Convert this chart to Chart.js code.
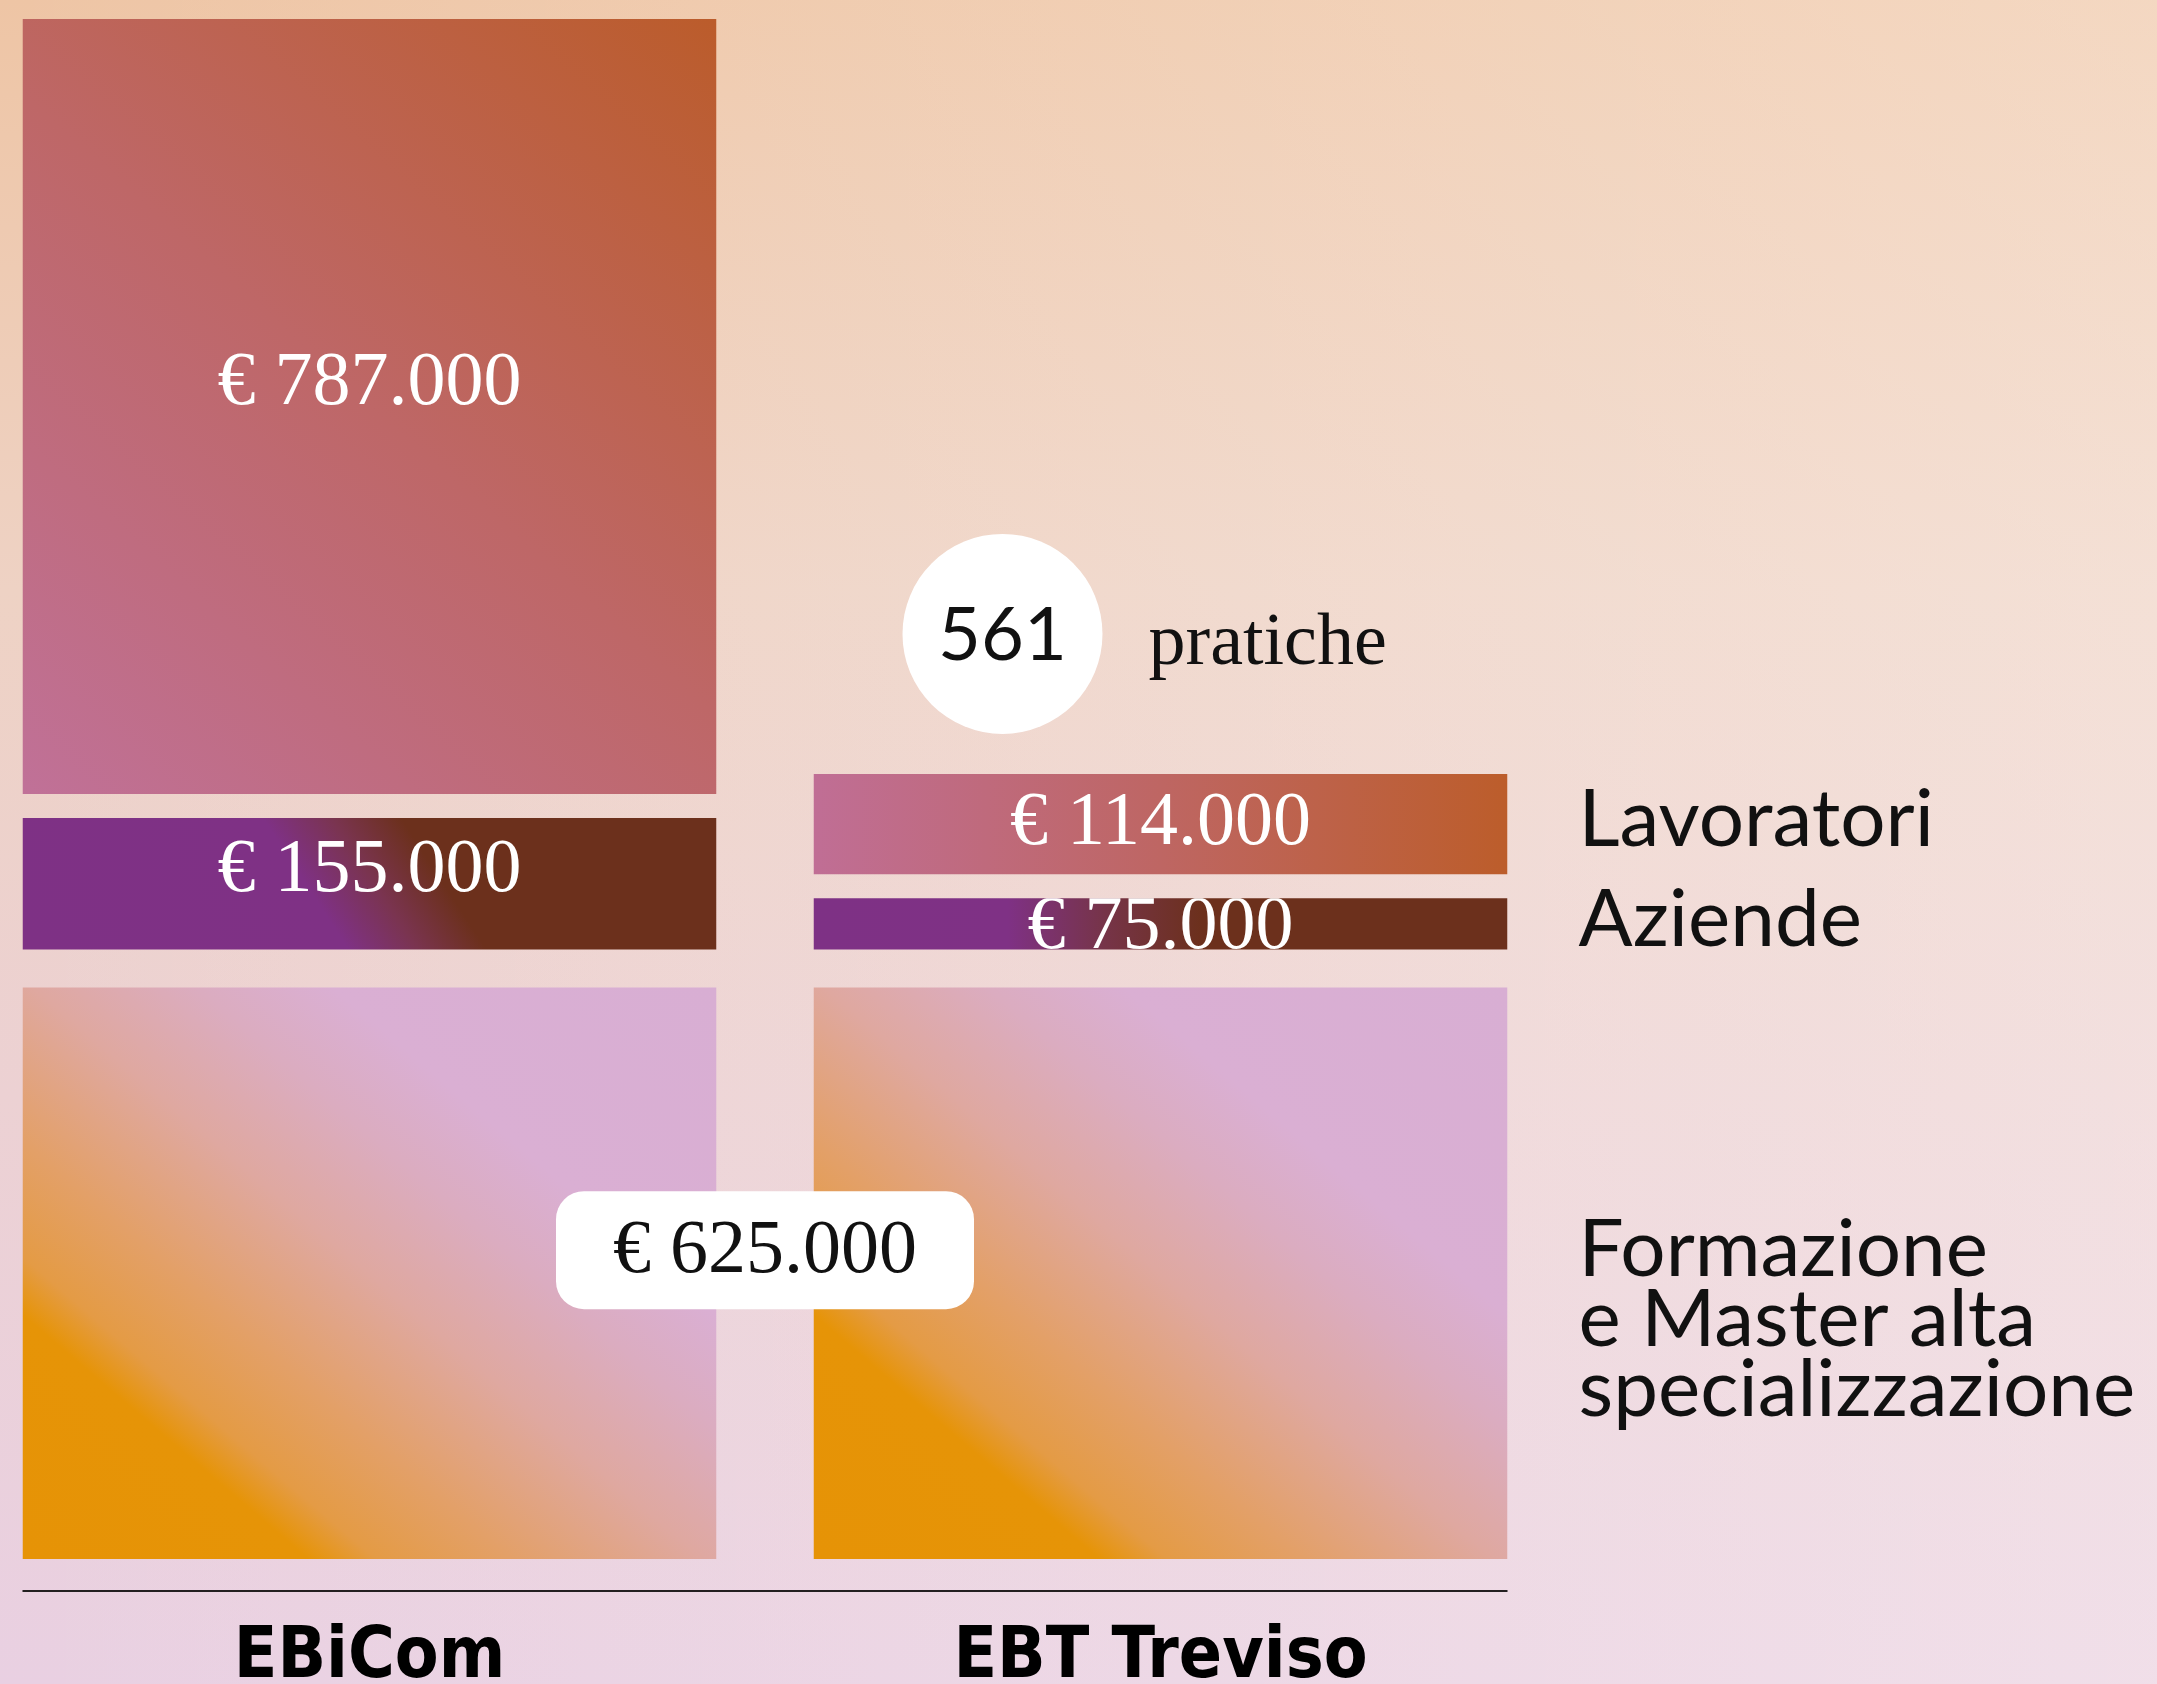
<!DOCTYPE html>
<html><head><meta charset="utf-8">
<script src="https://cdn.jsdelivr.net/npm/chart.js@4.4.1/dist/chart.umd.min.js"></script>
<style>
html,body{margin:0;padding:0;width:2157px;height:1684px;overflow:hidden;}
body{background:
  linear-gradient(90deg, rgba(255,255,255,0) 0%, rgba(255,250,246,0.35) 100%),
  linear-gradient(180deg, #EEC5A5 0%, #EED2C4 35%, #ECD1D3 65%, #E9D0E2 100%);}
#wrap{position:absolute;left:-26px;top:0;width:2183px;height:1684px;}
</style></head><body><div id="wrap"><canvas id="c"></canvas></div>
<script>
// ---- data ----
const categories = ['EBiCom', 'EBT Treviso'];
const seriesNames = ['Formazione e Master alta specializzazione', 'Aziende', 'Lavoratori'];
const formazione = [625000, 625000];
const aziende = [155000, 75000];
const lavoratori = [787000, 114000];
const praticheValue = 561;
const praticheText = 'pratiche';
const legendFormazione = ['Formazione', 'e Master alta', 'specializzazione'];
const legendAziende = ['Aziende'];
const legendLavoratori = ['Lavoratori'];

// ---- style ----
const series = [formazione, aziende, lavoratori];
const BAR_PCT = 0.8774;
const BORDERS = [
  {top: 24, bottom: 31, left: 0, right: 0},
  {top: 10, bottom: 14, left: 0, right: 0},
  {top: 0, bottom: 14, left: 0, right: 0}
];
const SERIF = '"Liberation Serif", "DejaVu Serif", serif';
const SANS = 'Lato, "Open Sans", sans-serif';

function fmt(v){ return '€ ' + String(v).replace(/\B(?=(\d{3})+(?!\d))/g, '.'); }

function rectFor(chart, di, i) {
  const xs = chart.scales.x, ys = chart.scales.y;
  let start = 0;
  for (let k = 0; k < di; k++) start += series[k][i];
  const end = start + series[di][i];
  const xc = xs.getPixelForValue(i);
  const w = (xs.width / categories.length) * BAR_PCT;
  const b = BORDERS[di];
  return {l: xc - w/2, r: xc + w/2, t: ys.getPixelForValue(end) + b.top, b: ys.getPixelForValue(start) - b.bottom};
}

function addStops(g, stops){ stops.forEach(s => g.addColorStop(s[0], s[1])); return g; }

function barFill(c) {
  const chart = c.chart;
  if (!chart.chartArea || c.type !== 'data') return '#c07070';
  const r = rectFor(chart, c.datasetIndex, c.dataIndex);
  const ctx = chart.ctx;
  const w = r.r - r.l, h = r.b - r.t;
  const di = c.datasetIndex;
  if (di === 0) {
    const g = ctx.createLinearGradient(r.l, r.b, r.l + w*0.827, r.b - h*1.176);
    return addStops(g, [[0,'#E69306'],[0.21,'#E69407'],[0.26,'#E49B45'],[0.36,'#E3A068'],[0.5,'#DFA8A0'],[0.62,'#DBACC0'],[0.72,'#DAAFD3'],[1,'#D8AED3']]);
  }
  if (di === 1) {
    if (h > 80) {
      const g = ctx.createLinearGradient(r.l, r.b, r.r, r.b - 0.65*w);
      return addStops(g, [[0,'#7E3185'],[0.33,'#7F3185'],[0.40,'#7A3450'],[0.47,'#6C301C'],[1,'#6C301C']]);
    }
    const g = ctx.createLinearGradient(r.l, 0, r.r, 0);
    return addStops(g, [[0,'#7E3185'],[0.28,'#7F3185'],[0.42,'#763448'],[0.56,'#6C301C'],[1,'#6C301C']]);
  }
  if (h > 300) {
    const g = ctx.createLinearGradient(r.l, r.b, r.r, r.t);
    return addStops(g, [[0,'#C07198'],[0.5,'#BE6767'],[1,'#BB5C2B']]);
  }
  const g = ctx.createLinearGradient(r.l, 0, r.r, 0);
  return addStops(g, [[0,'#C06E95'],[0.5,'#BE6663'],[1,'#BC5D2B']]);
}

const overlay = {
  id: 'overlay',
  afterDatasetsDraw(chart) {
    const ctx = chart.ctx;
    const vis = (di, i) => {
      const el = chart.getDatasetMeta(di).data[i];
      const b = BORDERS[di];
      return {l: el.x - el.width/2, r: el.x + el.width/2, t: el.y + b.top, b: el.base - b.bottom};
    };
    const first = vis(0, 0), last = vis(0, categories.length - 1);
    ctx.save();
    // baseline
    ctx.strokeStyle = '#231f20'; ctx.lineWidth = 2;
    ctx.beginPath(); ctx.moveTo(first.l, chart.chartArea.bottom + 1); ctx.lineTo(last.r, chart.chartArea.bottom + 1); ctx.stroke();

    // white value labels
    ctx.font = '76px ' + SERIF; ctx.fillStyle = '#fff'; ctx.textAlign = 'center'; ctx.textBaseline = 'middle';
    [1, 2].forEach(di => {
      categories.forEach((_, i) => {
        const r = vis(di, i); const h = r.b - r.t;
        const lift = h < 60 ? -4 : Math.min(22, Math.max(0, (h - 100) * 0.4));
        const cy = (r.t + r.b)/2 - lift;
        ctx.save(); ctx.beginPath(); ctx.rect(r.l, r.t, r.r - r.l, h); ctx.clip();
        ctx.fillText(fmt(series[di][i]), (r.l + r.r)/2, cy);
        ctx.restore();
      });
    });

    // shared formazione label
    const cx = (first.r + vis(0,1).l)/2, cy = (first.t + first.b)/2 - 23;
    const bw = 418, bh = 118;
    ctx.fillStyle = '#fff';
    ctx.beginPath(); ctx.roundRect(cx - bw/2, cy - bh/2, bw, bh, 28); ctx.fill();
    ctx.fillStyle = '#111';
    ctx.fillText(fmt(formazione[0]), cx, cy + 2);

    // pratiche circle above EBT Treviso
    const rl = vis(2, 1);
    const ccx = rl.l + 189, ccy = rl.t - 140;
    ctx.fillStyle = '#fff';
    ctx.beginPath(); ctx.arc(ccx, ccy, 100, 0, Math.PI*2); ctx.fill();
    ctx.fillStyle = '#111';
    ctx.font = '74px ' + SANS;
    ctx.fillText(String(praticheValue), ccx, ccy + 2);
    ctx.textAlign = 'left'; ctx.textBaseline = 'alphabetic';
    ctx.font = '74px ' + SERIF;
    ctx.fillText(praticheText, rl.l + 335, ccy + 30);

    // right-side legend
    ctx.font = '80px ' + SANS; ctx.fillStyle = '#111'; ctx.textBaseline = 'middle';
    const lx = last.r + 71;
    const ra = vis(1, 1), rf = vis(0, 1);
    ctx.fillText(legendLavoratori[0], lx, (rl.t + rl.b)/2 - 4);
    ctx.fillText(legendAziende[0], lx, (ra.t + ra.b)/2 - 4);
    legendFormazione.forEach((s, k) => ctx.fillText(s, lx, (rf.t + rf.b)/2 - 23 + k*70));
    ctx.restore();
  }
};

const stackMax = Math.max(...categories.map((_, i) => series.reduce((a, s) => a + s[i], 0)));

new Chart(document.getElementById('c'), {
  type: 'bar',
  data: {
    labels: categories,
    datasets: series.map((s, di) => ({
      label: seriesNames[di],
      data: s,
      backgroundColor: barFill,
      borderColor: 'rgba(0,0,0,0)',
      borderWidth: BORDERS[di],
      borderSkipped: false,
      inflateAmount: 0,
      categoryPercentage: 1,
      barPercentage: BAR_PCT
    }))
  },
  options: {
    responsive: true, maintainAspectRatio: false, animation: false, events: [],
    layout: {padding: {top: 19, left: 0, right: 601, bottom: 0}},
    plugins: {legend: {display: false}, tooltip: {enabled: false}},
    scales: {
      x: {
        stacked: true,
        grid: {display: false, drawTicks: false},
        border: {display: false},
        ticks: {color: '#000', padding: 26, font: {family: '"Liberation Sans Narrow", "DejaVu Sans Condensed", sans-serif', size: 71, weight: 'bold'}},
        afterFit: s => { s.height = 94; }
      },
      y: {stacked: true, display: false, min: 0, max: stackMax}
    }
  },
  plugins: [overlay]
});
</script></body></html>
